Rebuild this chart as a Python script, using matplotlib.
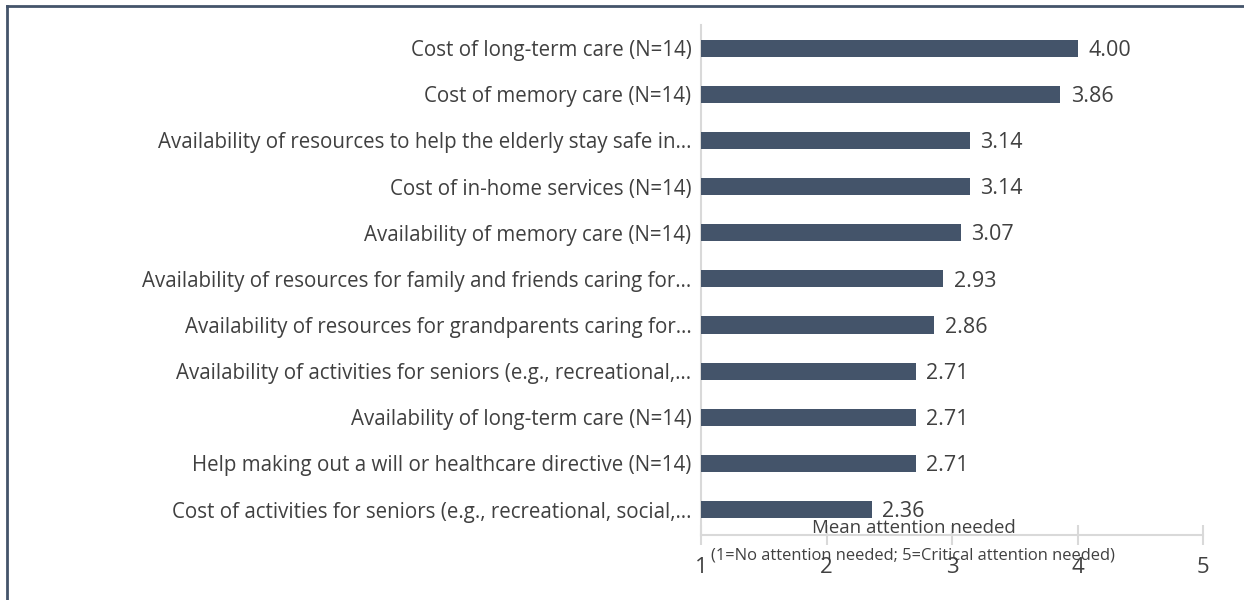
import matplotlib
matplotlib.use("Agg")
import matplotlib.pyplot as plt
from matplotlib.lines import Line2D

categories = [
    "Cost of long-term care (N=14)",
    "Cost of memory care (N=14)",
    "Availability of resources to help the elderly stay safe in…",
    "Cost of in-home services (N=14)",
    "Availability of memory care (N=14)",
    "Availability of resources for family and friends caring for…",
    "Availability of resources for grandparents caring for…",
    "Availability of activities for seniors (e.g., recreational,…",
    "Availability of long-term care (N=14)",
    "Help making out a will or healthcare directive (N=14)",
    "Cost of activities for seniors (e.g., recreational, social,…",
]
values = [4.00, 3.86, 3.14, 3.14, 3.07, 2.93, 2.86, 2.71, 2.71, 2.71, 2.36]
xticks = [1, 2, 3, 4, 5]
xlabel_line1 = "Mean attention needed"
xlabel_line2 = "(1=No attention needed; 5=Critical attention needed)"

plt.rcParams['font.family'] = ['Open Sans', 'DejaVu Sans']
text_color = "#404040"
bar_color = "#44546A"
axis_color = "#D9D9D9"

fig = plt.figure(figsize=(12.44, 6.0), dpi=100)
fig.patch.set_facecolor("white")
ax = fig.add_axes([701/1244, 1-535/600, (1203-701)/1244, (535-25)/600])

y = list(range(len(categories)))
ax.barh(y, [v - 1 for v in values], left=1, height=0.37, color=bar_color, zorder=3)
for yi, v in zip(y, values):
    ax.text(v + 0.085, yi + 0.05, f"{v:.2f}", va="center", ha="left", fontsize=15.5, color=text_color)

ax.set_xlim(1, 5)
ax.set_ylim(len(categories) - 0.45, -0.5)
ax.set_yticks(y)
ax.set_yticklabels(categories, fontsize=14.8, color=text_color)
ax.set_xticks(xticks)
ax.set_xticklabels([str(t) for t in xticks], fontsize=16, color=text_color)
for s in ["top", "right"]:
    ax.spines[s].set_visible(False)
for s in ["left", "bottom"]:
    ax.spines[s].set_color(axis_color)
    ax.spines[s].set_linewidth(1.5)
ax.tick_params(axis="y", length=0, pad=7)
ax.tick_params(axis="x", direction="inout", length=15, width=1.5, color=axis_color, pad=8)
ax.set_facecolor("white")

fig.text(914/1244, 1-528/600, xlabel_line1, ha="center", va="center", fontsize=13.4, color=text_color)
fig.text(913/1244, 1-555/600, xlabel_line2, ha="center", va="center", fontsize=11.9, color=text_color)

# outer frame (partial, as in reference)
fig.add_artist(Line2D([7/1244, 7/1244], [0, 1-6/600], transform=fig.transFigure, color="#44546A", lw=2))
fig.add_artist(Line2D([7/1244, 1], [1-6/600, 1-6/600], transform=fig.transFigure, color="#44546A", lw=2))

fig.savefig("out.png", dpi=100, facecolor="white")
